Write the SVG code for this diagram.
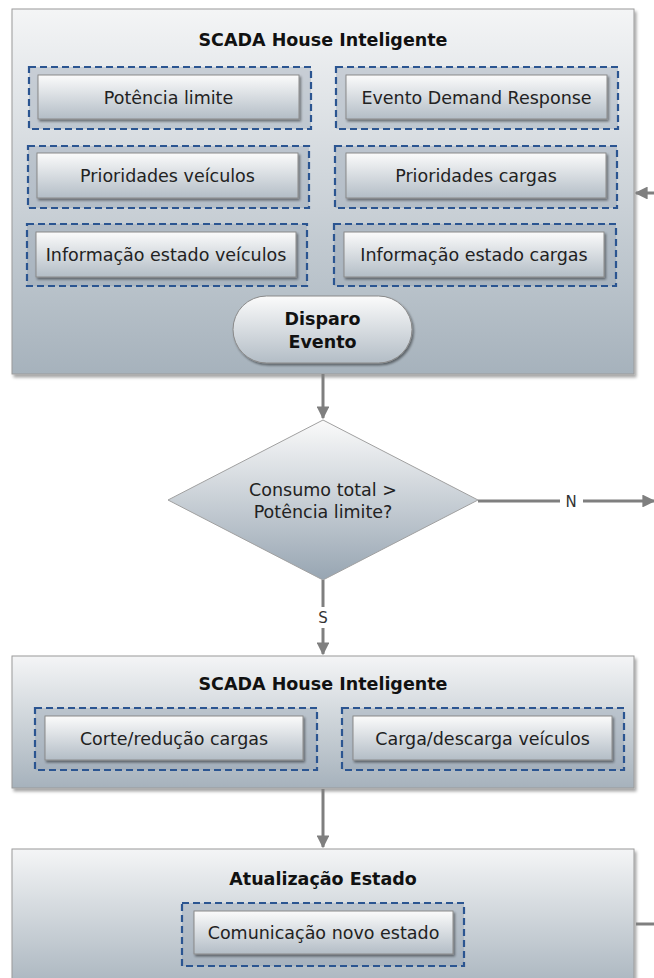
<svg xmlns="http://www.w3.org/2000/svg" width="654" height="978" viewBox="0 0 654 978">
<style>
.title{font-family:"DejaVu Sans","Liberation Sans",sans-serif;font-size:17.5px;font-weight:bold;fill:#111;text-anchor:middle}
.lbl{font-family:"DejaVu Sans","Liberation Sans",sans-serif;font-size:17.5px;fill:#222;text-anchor:middle}
.small{font-family:"DejaVu Sans","Liberation Sans",sans-serif;font-size:15px;fill:#333;text-anchor:middle}
.cont{fill:url(#gCont);stroke:#9a9a9a;stroke-width:1;filter:url(#sh)}
.btn{fill:url(#gBtn);stroke:#8a8a8a;stroke-width:1;filter:url(#sh2)}
.grp{fill:#8c9bab;fill-opacity:0.35;stroke:#2b5591;stroke-width:2.2;stroke-dasharray:7 4}
.conn{stroke:#7f7f7f;stroke-width:3;fill:none}
</style>
<defs>
<linearGradient id="gCont" x1="0" y1="0" x2="0" y2="1">
<stop offset="0" stop-color="#f4f5f6"/><stop offset="1" stop-color="#a6b2bc"/>
</linearGradient>
<linearGradient id="gBtn" x1="0" y1="0" x2="0" y2="1">
<stop offset="0" stop-color="#fbfbfb"/><stop offset="1" stop-color="#b3bdc6"/>
</linearGradient>
<linearGradient id="gDia" x1="0" y1="0" x2="0" y2="1">
<stop offset="0" stop-color="#fafafa"/><stop offset="1" stop-color="#97a5b2"/>
</linearGradient>
<filter id="sh" x="-5%" y="-5%" width="110%" height="115%">
<feDropShadow dx="2" dy="3" stdDeviation="1.5" flood-color="#000" flood-opacity="0.35"/>
</filter>
<filter id="sh2" x="-5%" y="-10%" width="110%" height="130%">
<feDropShadow dx="1.5" dy="2" stdDeviation="1" flood-color="#000" flood-opacity="0.45"/>
</filter>
<marker id="arr" viewBox="0 0 10 10" refX="9" refY="5" markerWidth="4.3" markerHeight="4.3" orient="auto" markerUnits="strokeWidth">
<path d="M0,0 L10,5 L0,10 z" fill="#7f7f7f"/>
</marker>
</defs>

<g id="scada1">
<rect class="cont" x="12" y="9" width="622" height="365"/>
<text class="title" x="323" y="46">SCADA House Inteligente</text>
<g id="potencia"><rect class="grp" x="29" y="67" width="282" height="62"/><rect class="btn" x="38" y="75" width="261" height="44"/><text class="lbl" x="168.5" y="103.5">Potência limite</text></g>
<g id="evento-dr"><rect class="grp" x="336" y="67" width="282" height="62"/><rect class="btn" x="346" y="75" width="261" height="44"/><text class="lbl" x="476.5" y="103.5">Evento Demand Response</text></g>
<g id="prio-veic"><rect class="grp" x="28" y="146" width="281" height="62"/><rect class="btn" x="37" y="153" width="261" height="45"/><text class="lbl" x="167.5" y="182">Prioridades veículos</text></g>
<g id="prio-cargas"><rect class="grp" x="335" y="146" width="282" height="62"/><rect class="btn" x="346" y="153" width="260" height="45"/><text class="lbl" x="476" y="182">Prioridades cargas</text></g>
<g id="info-veic"><rect class="grp" x="27" y="224" width="280" height="62"/><rect class="btn" x="36" y="232" width="260" height="45"/><text class="lbl" x="166" y="261">Informação estado veículos</text></g>
<g id="info-cargas"><rect class="grp" x="334" y="224" width="282" height="62"/><rect class="btn" x="344" y="232" width="260" height="45"/><text class="lbl" x="474" y="261">Informação estado cargas</text></g>
<g id="disparo"><rect class="btn" x="233" y="296" width="179" height="67" rx="33.5"/><text class="title" x="322.5" y="325">Disparo</text><text class="title" x="322.5" y="348">Evento</text></g>
</g>

<g id="decisao">
<polygon points="323,420 478,500 323,580 168,500" fill="url(#gDia)" stroke="#a0a0a0" stroke-width="1"/>
<text class="lbl" x="323" y="496">Consumo total &gt;</text>
<text class="lbl" x="323" y="518">Potência limite?</text>
</g>

<g id="scada2">
<rect class="cont" x="12" y="656" width="622" height="132"/>
<text class="title" x="323" y="690">SCADA House Inteligente</text>
<g id="corte"><rect class="grp" x="35" y="708" width="282" height="62"/><rect class="btn" x="45" y="716" width="258" height="44"/><text class="lbl" x="174" y="744.5">Corte/redução cargas</text></g>
<g id="carga-desc"><rect class="grp" x="342" y="708" width="282" height="62"/><rect class="btn" x="353" y="716" width="259" height="44"/><text class="lbl" x="482.5" y="744.5">Carga/descarga veículos</text></g>
</g>

<g id="atualizacao">
<rect class="cont" x="12" y="849" width="622" height="145"/>
<text class="title" x="323" y="885">Atualização Estado</text>
<g id="comunicacao"><rect class="grp" x="182" y="903" width="282" height="63"/><rect class="btn" x="194" y="911" width="259" height="43"/><text class="lbl" x="323.5" y="939">Comunicação novo estado</text></g>
</g>

<g id="connectors">
<line class="conn" x1="323" y1="374" x2="323" y2="418" marker-end="url(#arr)"/>
<line class="conn" x1="478" y1="501" x2="654" y2="501" marker-end="url(#arr)"/>
<rect x="560" y="491" width="23" height="20" fill="#fff"/>
<text class="small" x="571" y="507">N</text>
<line class="conn" x1="323" y1="580" x2="323" y2="654" marker-end="url(#arr)"/>
<rect x="314" y="607" width="18" height="21" fill="#fff"/>
<text class="small" x="323" y="623">S</text>
<line class="conn" x1="323" y1="789" x2="323" y2="847" marker-end="url(#arr)"/>
<line class="conn" x1="654" y1="193" x2="636" y2="193" marker-end="url(#arr)"/>
<line class="conn" x1="636" y1="924" x2="654" y2="924"/>
</g>
</svg>
